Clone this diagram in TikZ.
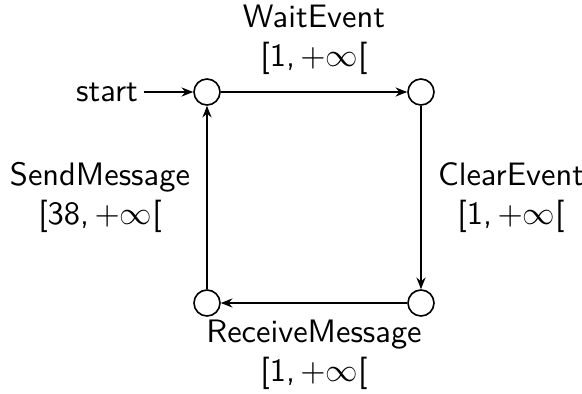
\documentclass[tikz,border=0pt]{standalone}
\usetikzlibrary{arrows.meta}
\begin{document}
\begin{tikzpicture}[x=0.308pt,y=-0.308pt,font=\sffamily,
  state/.style={circle,draw,line width=0.5pt,minimum size=8pt,inner sep=0pt},
  arr/.style={-{Stealth[length=3.6pt,width=2.8pt,inset=1.2pt]},line width=0.5pt},
  lab/.style={align=center,inner sep=1pt}]
\useasboundingbox (0,0) rectangle (582,394);
\node[state] (q0) at (207,92) {};
\node[state] (q1) at (421,92) {};
\node[state] (q2) at (421,303) {};
\node[state] (q3) at (207,303) {};
\node[inner sep=1.6pt] (st) at (107,92) {start};
\draw[arr] (st) -- (q0);
\draw[arr] (q0) -- node[lab,above=4pt] {WaitEvent\\{[}1,$\,+\infty${[}} (q1);
\draw[arr] (q1) -- node[lab,right=4pt] {ClearEvent\\{[}1,$\,+\infty${[}} (q2);
\draw[arr] (q2) -- node[lab,below=4pt] {ReceiveMessage\\{[}1,$\,+\infty${[}} (q3);
\draw[arr] (q3) -- node[lab,left=4pt] {SendMessage\\{[}38,$\,+\infty${[}} (q0);
\end{tikzpicture}
\end{document}
